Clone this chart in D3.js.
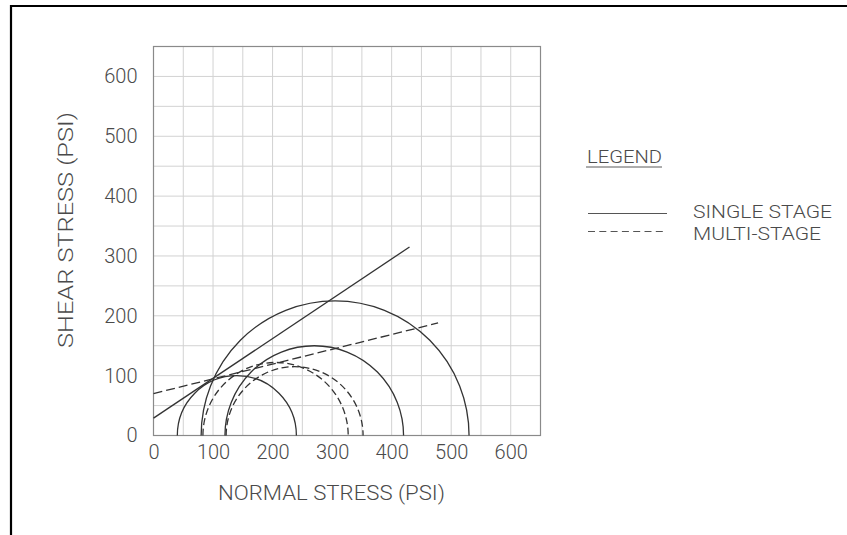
<!DOCTYPE html>
<html>
<head>
<meta charset="utf-8">
<script src="https://cdn.jsdelivr.net/npm/d3@7"></script>
<style>
  html, body { margin: 0; padding: 0; background: #fff; }
  svg { display: block; }
  text { font-family: Roboto, "DejaVu Sans Condensed", sans-serif; font-weight: 300; fill: #4a4a4a; }
</style>
</head>
<body>
<script>
// ---- data ----
const xTicks = [0, 100, 200, 300, 400, 500, 600];
const yTicks = [0, 100, 200, 300, 400, 500, 600];
const gridValues = [50, 100, 150, 200, 250, 300, 350, 400, 450, 500, 550, 600];
// Mohr circles: minor / major principal stress (psi)
const singleStageS3 = [40, 120, 80];
const singleStageS1 = [240, 420, 530];
const multiStageS3 = [83, 122];
const multiStageS1 = [327, 352];
// Failure envelopes: [normal, shear] end points
const singleEnvelope = [[0, 29], [430, 315]];
const multiEnvelope = [[0, 70], [478, 188]];
const legendLabels = ["SINGLE STAGE", "MULTI-STAGE"];

const W = 847, H = 535;
const svg = d3.select("body").append("svg").attr("width", W).attr("height", H);

// outer drawing frame
svg.append("line").attr("x1", 11).attr("y1", 6).attr("x2", W).attr("y2", 6)
  .attr("stroke", "#000").attr("stroke-width", 2.2);
svg.append("line").attr("x1", 11).attr("y1", 5).attr("x2", 11).attr("y2", H)
  .attr("stroke", "#000").attr("stroke-width", 2.2);

const plot = { left: 153.5, right: 540.5, top: 46.5, bottom: 435.5 };
const x = d3.scaleLinear().domain([0, 650]).range([plot.left, plot.right]);
const y = d3.scaleLinear().domain([0, 650]).range([plot.bottom, plot.top]);

// grid
const g = svg.append("g");
g.selectAll("line.vg").data(gridValues).join("line")
  .attr("x1", d => x(d)).attr("x2", d => x(d))
  .attr("y1", plot.top).attr("y2", plot.bottom)
  .attr("stroke", "#d2d2d2").attr("stroke-width", 1);
g.selectAll("line.hg").data(gridValues).join("line")
  .attr("y1", d => y(d)).attr("y2", d => y(d))
  .attr("x1", plot.left).attr("x2", plot.right)
  .attr("stroke", "#d2d2d2").attr("stroke-width", 1);
g.append("rect").attr("x", plot.left).attr("y", plot.top)
  .attr("width", plot.right - plot.left).attr("height", plot.bottom - plot.top)
  .attr("fill", "none").attr("stroke", "#8a8a8a").attr("stroke-width", 1.2);

// axes (labels only)
const xAxis = svg.append("g").attr("transform", `translate(0,${plot.bottom})`)
  .call(d3.axisBottom(x).tickValues(xTicks).tickSize(0).tickPadding(7));
const yAxis = svg.append("g").attr("transform", `translate(${plot.left},0)`)
  .call(d3.axisLeft(y).tickValues(yTicks).tickSize(0).tickPadding(16));
[xAxis, yAxis].forEach(a => {
  a.select(".domain").remove();
  a.selectAll("text").attr("font-size", 20)
    .attr("font-family", "Roboto, 'DejaVu Sans Condensed', sans-serif")
    .attr("fill", "#4a4a4a");
});
xAxis.selectAll("text").attr("dy", "0.8em");

// axis titles
svg.append("text").attr("x", 331.5).attr("y", 499.5).attr("text-anchor", "middle")
  .attr("font-size", 21).attr("textLength", 227).attr("lengthAdjust", "spacingAndGlyphs")
  .text("NORMAL STRESS (PSI)");
svg.append("text").attr("transform", "translate(73,230) rotate(-90)").attr("text-anchor", "middle")
  .attr("font-size", 21).attr("textLength", 236).attr("lengthAdjust", "spacingAndGlyphs")
  .text("SHEAR STRESS (PSI)");

// Mohr circles
function semicircle(s3, s1) {
  const rx = (x(s1) - x(s3)) / 2;
  const r = (s1 - s3) / 2;
  const ry = y(0) - y(r);
  return `M${x(s3)},${y(0)} A${rx},${ry} 0 0 1 ${x(s1)},${y(0)}`;
}
const curves = svg.append("g").attr("fill", "none").attr("stroke", "#333");
curves.selectAll("path.single").data(d3.range(singleStageS3.length)).join("path")
  .attr("d", i => semicircle(singleStageS3[i], singleStageS1[i]))
  .attr("stroke-width", 1.3);
curves.selectAll("path.multi").data(d3.range(multiStageS3.length)).join("path")
  .attr("d", i => semicircle(multiStageS3[i], multiStageS1[i]))
  .attr("stroke-width", 1.3).attr("stroke-dasharray", "7,3.5");

// envelopes
const line = d3.line().x(d => x(d[0])).y(d => y(d[1]));
curves.append("path").attr("d", line(singleEnvelope)).attr("stroke-width", 1.3);
curves.append("path").attr("d", line(multiEnvelope)).attr("stroke-width", 1.3)
  .attr("stroke-dasharray", "9,4");

// legend
svg.append("text").attr("x", 587).attr("y", 163).attr("font-size", 19)
  .attr("textLength", 75).attr("lengthAdjust", "spacingAndGlyphs").text("LEGEND");
svg.append("line").attr("x1", 586).attr("x2", 662).attr("y1", 167).attr("y2", 167)
  .attr("stroke", "#5a5a5a").attr("stroke-width", 1);
const legY = [213.5, 231.5];
const legBase = [217.5, 240];
const legLen = [139, 128];
legendLabels.forEach((lab, i) => {
  svg.append("line").attr("x1", 588).attr("x2", 667).attr("y1", legY[i]).attr("y2", legY[i])
    .attr("stroke", "#555").attr("stroke-width", 1)
    .attr("stroke-dasharray", i === 1 ? "7,4.3" : null);
  svg.append("text").attr("x", 693).attr("y", legBase[i]).attr("font-size", 19)
    .attr("textLength", legLen[i]).attr("lengthAdjust", "spacingAndGlyphs").text(lab);
});
</script>
</body>
</html>
